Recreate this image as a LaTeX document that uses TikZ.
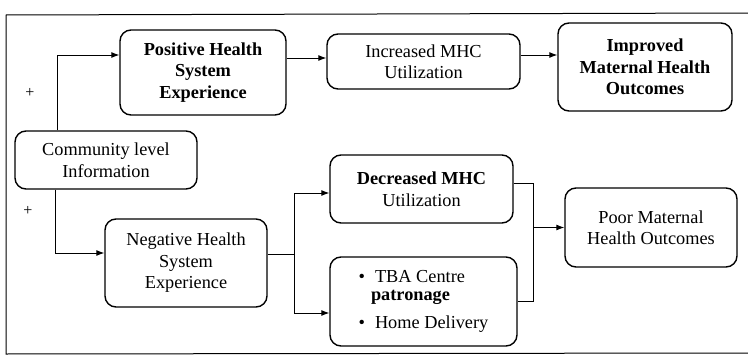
\documentclass[tikz,border=0pt]{standalone}
\usepackage{fontspec}
\setmainfont{Liberation Serif}
\usetikzlibrary{arrows.meta}
\tikzset{
  boxbase/.style={draw, line width=1.4pt, rounded corners=11pt, inner sep=2pt,
    font=\fontsize{18.3}{21.5}\selectfont},
  box/.style={boxbase, align=center},
  arr/.style={line width=0.9pt, -{Latex[length=8pt,width=6pt]}},
  ln/.style={line width=0.9pt},
  frame/.style={line width=1pt},
  plus/.style={font=\fontsize{16}{18}\selectfont}
}
\begin{document}
\begin{tikzpicture}[x=1pt,y=-1pt]
\useasboundingbox (0,0) rectangle (748,356);
% frame
\draw[frame] (748,13) -- (6,15) -- (6,354) -- (748,353);
% boxes
\node[box, minimum width=166pt, minimum height=85pt] (pos) at (203,72.5) {\textbf{Positive Health}\\\textbf{System}\\\textbf{Experience}};
\node[box, minimum width=193pt, minimum height=55pt] (inc) at (423.5,61.5) {Increased MHC\\Utilization};
\node[box, minimum width=174pt, minimum height=88pt] (imp) at (645,67) {\textbf{Improved}\\\textbf{Maternal Health}\\\textbf{Outcomes}};
\node[box, minimum width=182pt, minimum height=58pt] (com) at (106,160) {Community level\\Information};
\node[box, minimum width=162pt, minimum height=88pt] (neg) at (186,263) {Negative Health\\System\\Experience};
\node[box, minimum width=183pt, minimum height=68pt] (dec) at (421.5,189) {\textbf{Decreased MHC}\\Utilization};
\node[boxbase, minimum width=187pt, minimum height=89pt] (tba) at (423.5,301.5)
  {\begin{tabular}{@{}l@{\hspace{10pt}}l@{}}\textbullet & TBA Centre\\[-4pt] & \hspace{-4pt}\textbf{patronage}\\[7pt] \textbullet & Home Delivery\end{tabular}};
\node[box, minimum width=172pt, minimum height=79pt] (poor) at (651,227.5) {Poor Maternal\\Health Outcomes};
% plus labels
\node[plus] (pl1) at (30,93) {+};
\node[plus] (pl2) at (28,211) {+};
% helper coordinates
\coordinate (xA) at (57,0);
\coordinate (xA2) at (55,0);
\coordinate (xB) at (294,0);
\coordinate (xC) at (533,0);
\coordinate (p1) at ([yshift=17.5pt]pos.west);
\coordinate (p2) at ([yshift=14.5pt]pos.east);
\coordinate (i1) at ([yshift=6.5pt]inc.east);
\coordinate (n0) at ([yshift=10pt]neg.west);
\coordinate (n1) at ([yshift=9pt]neg.east);
\coordinate (d1) at ([yshift=-4pt]dec.west);
\coordinate (t1) at ([yshift=-11.5pt]tba.west);
\coordinate (d2) at ([yshift=6pt]dec.east);
% connectors
\draw[arr] (com.north -| xA) |- (p1);
\draw[arr] (com.south -| xA2) |- (n0);
\draw[arr] (p2) -- (p2 -| inc.west);
\draw[arr] (i1) -- (i1 -| imp.west);
\draw[ln] (n1) -- (n1 -| xB);
\draw[arr] (n1 -| xB) |- (d1);
\draw[arr] (n1 -| xB) |- (t1);
\draw[ln] (d2) -| (tba.east -| xC) -- (tba.east);
\draw[arr] (poor.west -| xC) -- (poor.west);
\end{tikzpicture}
\end{document}
